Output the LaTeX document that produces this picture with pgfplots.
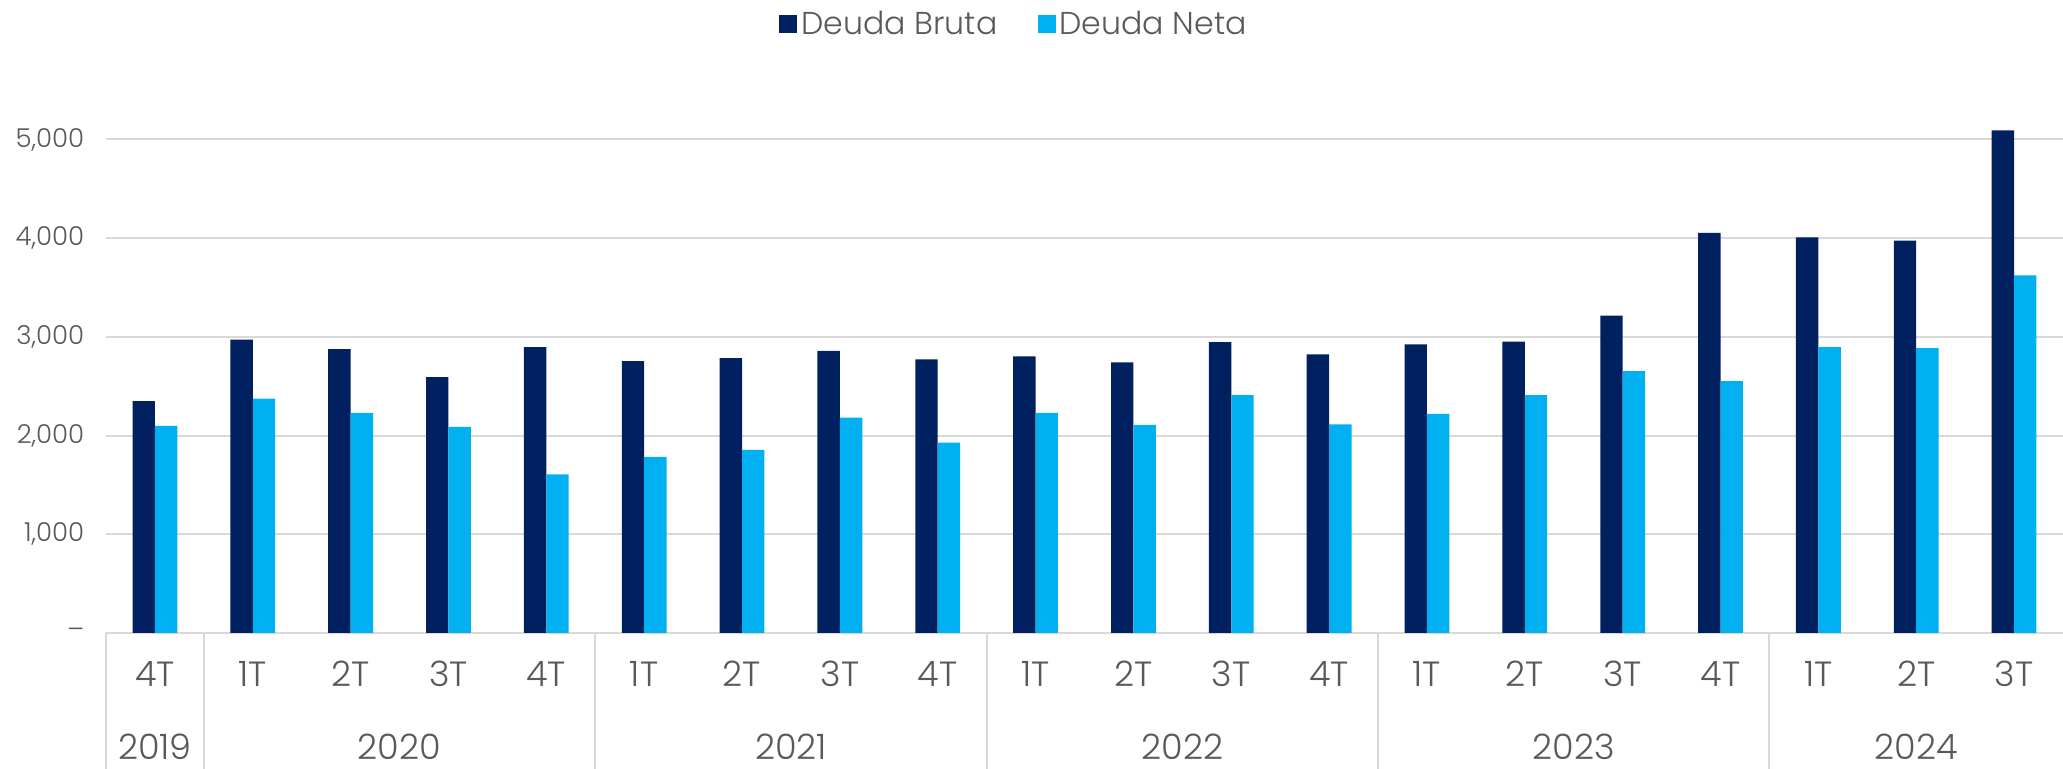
\documentclass[border=0pt]{standalone}
\usepackage{fontspec}
\setmainfont{Poppins}[UprightFont=* Light]
\usepackage{pgfplots}
\pgfplotsset{compat=1.18}
\definecolor{bruta}{HTML}{002060}
\definecolor{neta}{HTML}{00B0F0}
\definecolor{txt}{HTML}{595959}
\definecolor{gridc}{HTML}{D9D9D9}
\pgfplotsset{
  sqlegend/.style={legend image code/.code={\fill[##1] (0pt,-4.5pt) rectangle (9pt,4.5pt);}},
}
\tikzset{yearlab/.style={font=\fontsize{17.5pt}{20pt}\selectfont, text=txt, inner sep=0pt}}
\begin{document}
\begin{tikzpicture}
\begin{axis}[
  at={(0,0)}, anchor=south west,
  scale only axis, width=978.5pt, height=266.5pt,
  xmin=-0.5, xmax=19.5, ymin=0, ymax=5400,
  ybar=0pt, bar width=11.2pt,
  axis x line*=bottom, axis y line*=left,
  x axis line style={draw=gridc, line width=1pt, -},
  y axis line style={draw=none},
  ymajorgrids, grid style={draw=gridc, line width=1pt},
  major tick length=0pt, tick style={draw=none},
  ytick={0,1000,2000,3000,4000,5000},
  yticklabels={{\textendash},{1,000},{2,000},{3,000},{4,000},{5,000}},
  yticklabel style={font=\fontsize{13pt}{15pt}\selectfont, text=txt, inner sep=0pt, xshift=-10.7pt},
  xtick={0,...,19},
  xticklabels={4T,1T,2T,3T,4T,1T,2T,3T,4T,1T,2T,3T,4T,1T,2T,3T,4T,1T,2T,3T},
  xticklabel style={font=\fontsize{17.5pt}{20pt}\selectfont, text=txt, anchor=center, yshift=-20.5pt},
  clip=false,
  legend columns=2,
  legend style={draw=none, fill=none, at={(0.4645,1.1426)}, anchor=center,
    font=\fontsize{15.8pt}{18pt}\selectfont, text=txt,
    /tikz/every even column/.append style={column sep=18pt}},
]
\addplot[fill=bruta, draw=none, sqlegend] coordinates {
(0,2350) (1,2973) (2,2875) (3,2593) (4,2896) (5,2754) (6,2785) (7,2859) (8,2771) (9,2803)
(10,2741) (11,2946) (12,2822) (13,2923) (14,2953) (15,3215) (16,4054) (17,4007) (18,3976) (19,5092)};
\addplot[fill=neta, draw=none, sqlegend] coordinates {
(0,2098) (1,2374) (2,2229) (3,2088) (4,1606) (5,1785) (6,1855) (7,2182) (8,1929) (9,2229)
(10,2108) (11,2411) (12,2114) (13,2219) (14,2411) (15,2653) (16,2552) (17,2896) (18,2886) (19,3622)};
\legend{Deuda Bruta, Deuda Neta}
\pgfplotsinvokeforeach{-0.5,0.5,4.5,8.5,12.5,16.5}{
  \draw[draw=gridc, line width=1pt] (axis cs:#1,0) -- ([yshift=-68pt]axis cs:#1,0);
}
\node[yearlab] at ([yshift=-57pt]axis cs:0,0) {2019};
\node[yearlab] at ([yshift=-57pt]axis cs:2.5,0) {2020};
\node[yearlab] at ([yshift=-57pt]axis cs:6.5,0) {2021};
\node[yearlab] at ([yshift=-57pt]axis cs:10.5,0) {2022};
\node[yearlab] at ([yshift=-57pt]axis cs:14.5,0) {2023};
\node[yearlab] at ([yshift=-57pt]axis cs:18,0) {2024};
\end{axis}
\pgfresetboundingbox
\useasboundingbox (-53pt,-68pt) rectangle (978.5pt,316.5pt);
\end{tikzpicture}
\end{document}
